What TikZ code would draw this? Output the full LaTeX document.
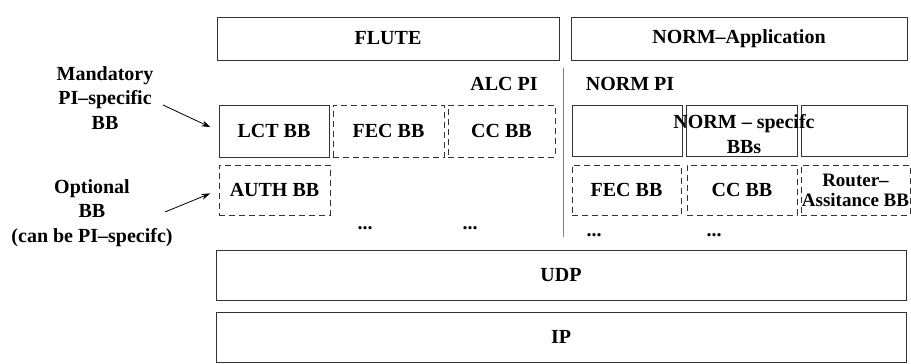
\documentclass[tikz,border=0pt]{standalone}
\usepackage{fontspec}
\setmainfont{Liberation Serif}
\usetikzlibrary{arrows.meta,positioning}
\definecolor{lline}{HTML}{333333}
\definecolor{lsep}{HTML}{808080}
\tikzset{
  box/.style={draw=lline,line width=0.8pt,inner sep=0pt,align=center,font=\fontsize{20}{24}\selectfont\bfseries},
  dbox/.style={box,dash pattern=on 6pt off 4pt},
  lbl/.style={inner sep=0pt,align=center,font=\fontsize{20}{24.5}\selectfont\bfseries},
  arr/.style={-{Stealth[length=9pt,width=6pt]},line width=0.8pt,draw=black},
}

\begin{document}
\begin{tikzpicture}[x=1pt,y=-1pt,
                    wide/.style={box,minimum width=690pt,minimum height=50pt}]
  \useasboundingbox (0,0) rectangle (911,364);
  % applications
  \node[box,minimum width=342pt,minimum height=43pt] (flute) at (388,38.5) {FLUTE};
  \node[box,minimum width=336pt,minimum height=43pt] (normapp) at (739,38.5) {NORM–Application};
  \node[lbl] (alcpi) at (504,84) {ALC PI};
  \node[lbl] (normpi) at (630,84) {NORM PI};
  \coordinate (sept) at (563,68);
  \coordinate (sepb) at (563,237);
  \draw[lsep,line width=0.8pt] (sept) -- (sepb);
  % ALC building blocks
  \node[box,minimum width=110pt,minimum height=52pt] (lct) at (274,131) {LCT BB};
  \foreach \n/\x/\w/\t in {fecl/388.5/111/FEC BB, ccl/501.5/107/CC BB}
    \node[dbox,minimum width=\w pt,minimum height=52pt] (\n) at (\x,131) {\t};
  \node[dbox,minimum width=111pt,minimum height=50pt] (auth) at (274.5,190) {AUTH BB};
  \node[lbl] (dotsa) at (365,228) {...};
  \node[lbl] (dotsb) at (470,228) {...};
  % NORM building blocks
  \foreach \n/\x/\w in {nbba/627/110, nbbb/741.5/111, nbbc/854/106}
    \node[box,minimum width=\w pt,minimum height=51pt] (\n) at (\x,130.5) {};
  \node[lbl] (nspec) at (744,134) {NORM – specifc\\BBs};
  \foreach \n/\x/\w/\t in {fecr/626.5/109/FEC BB, ccr/742/110/CC BB}
    \node[dbox,minimum width=\w pt,minimum height=50pt] (\n) at (\x,190) {\t};
  \node[dbox,minimum width=109pt,minimum height=50pt,font=\fontsize{19}{20}\selectfont\bfseries] (router) at (855.5,190) {Router–\\Assitance BB};
  \node[lbl] (dotsc) at (594,235) {...};
  \node[lbl] (dotsd) at (714,235) {...};
  % transport
  \node[wide] (udp) at (561,275) {UDP};
  \node[wide] (ip) at (561,337) {IP};
  % legend
  \node[lbl] (mand) at (105,98) {Mandatory\\PI–specific\\BB};
  \node[lbl] (opt) at (92,213) {Optional\\BB\\(can be PI–specifc)};
  \coordinate (mandt) at (163,105);
  \coordinate (optt) at (165,212);
  \draw[arr,shorten >=9pt] (mandt) -- (lct.west);
  \draw[arr,shorten >=9pt] (optt) -- (auth.west);
\end{tikzpicture}
\end{document}
